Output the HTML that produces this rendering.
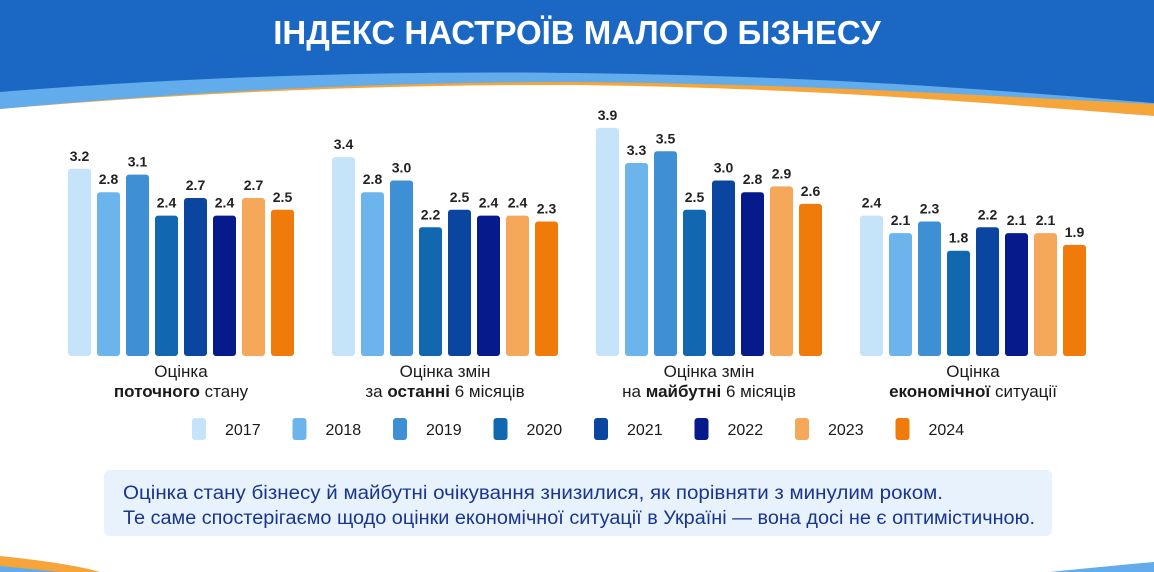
<!DOCTYPE html>
<html><head><meta charset="utf-8"><style>
body{margin:0;width:1154px;height:572px;overflow:hidden;background:#fff;font-family:"Liberation Sans","DejaVu Sans",sans-serif;}
svg{position:absolute;left:0;top:0}
</style></head><body>
<svg id="s" width="1154" height="572" viewBox="0 0 1154 572" xmlns="http://www.w3.org/2000/svg">
<path d="M0 0 H1154 V116 C950 100 800 88 577 85 C350 84 150 96 0 109 Z" fill="#f5a53a"/>
<path d="M0 0 H1154 V104 C950 94 800 84 577 82 C350 82 150 95 0 109 Z" fill="#62acec"/>
<path d="M0 0 H1154 V103 C950 86 800 76 577 73 C350 70 150 80 0 92 Z" fill="#1a67c4"/>
<text x="577" y="44" text-anchor="middle" font-size="33" font-weight="bold" fill="#fff" font-family="Liberation Sans, DejaVu Sans, sans-serif">ІНДЕКС НАСТРОЇВ МАЛОГО БІЗНЕСУ</text>
<path d="M0 556 C40 560 80 566 100 572 H0 Z" fill="#f5a53a"/>
<path d="M0 566 C20 568 40 570 60 572 H0 Z" fill="#62acec"/>
<path d="M1154 562 C1110 566 1080 569 1050 572 H1154 Z" fill="#62acec"/>
<rect x="104" y="470" width="948" height="66" rx="6" fill="#e7f2fc"/>
<g font-size="19" fill="#1a3590" font-family="Liberation Sans, DejaVu Sans, sans-serif">
<text x="123" y="499" textLength="820" lengthAdjust="spacingAndGlyphs">Оцінка стану бізнесу й майбутні очікування знизилися, як порівняти з минулим роком.</text>
<text x="123" y="524" textLength="912" lengthAdjust="spacingAndGlyphs">Те саме спостерігаємо щодо оцінки економічної ситуації в Україні — вона досі не є оптимістичною.</text>
</g>
<g id="bars"></g>
<g font-size="17" fill="#1a1a1a" text-anchor="middle" font-family="Liberation Sans, DejaVu Sans, sans-serif">
<text x="181" y="377">Оцінка</text><text x="181" y="397"><tspan font-weight="bold">поточного</tspan> стану</text>
<text x="445" y="377">Оцінка змін</text><text x="445" y="397">за <tspan font-weight="bold">останні</tspan> 6 місяців</text>
<text x="709" y="377">Оцінка змін</text><text x="709" y="397">на <tspan font-weight="bold">майбутні</tspan> 6 місяців</text>
<text x="973" y="377">Оцінка</text><text x="973" y="397"><tspan font-weight="bold">економічної</tspan> ситуації</text>
</g>
<g id="leg"></g>
</svg>
<script>
var cols=["#c5e3f9","#6cb4ec","#3f8fd4","#1168b1","#0a46a0","#061a8c","#f5a85a","#f07a0a"];
var data=[[3.2,2.8,3.1,2.4,2.7,2.4,2.7,2.5],[3.4,2.8,3.0,2.2,2.5,2.4,2.4,2.3],[3.9,3.3,3.5,2.5,3.0,2.8,2.9,2.6],[2.4,2.1,2.3,1.8,2.2,2.1,2.1,1.9]];
var x0=[68,332,596,860],g=document.getElementById("bars"),h="";
data.forEach(function(d,gi){d.forEach(function(v,i){var x=x0[gi]+29*i,t=356-v*58.5;
h+='<rect x="'+x+'" y="'+t+'" width="23" height="'+(356-t)+'" rx="3" fill="'+cols[i]+'"/>';
h+='<text x="'+(x+11.5)+'" y="'+(t-8)+'" text-anchor="middle" font-size="14" font-weight="bold" fill="#222">'+v.toFixed(1)+'</text>';});});
g.innerHTML=h;
var l="";for(var i=0;i<8;i++){var x=192+100.5*i;l+='<rect x="'+x+'" y="418" width="14" height="22" rx="3" fill="'+cols[i]+'"/><text x="'+(x+33)+'" y="435" font-size="16" fill="#1a1a1a">'+(2017+i)+'</text>';}
document.getElementById("leg").innerHTML=l;
</script>
</body></html>
